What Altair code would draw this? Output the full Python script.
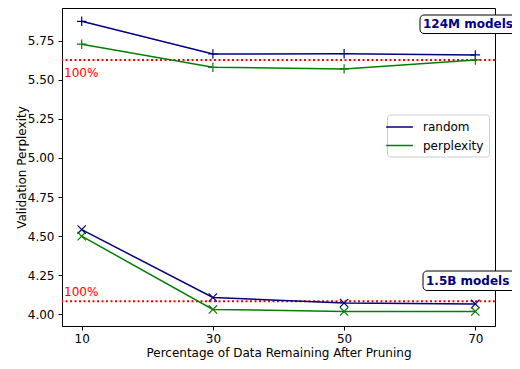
import altair as alt
import pandas as pd

# ---- data ----
x_pct = [10, 30, 50, 70]
m124_random = [5.873, 5.664, 5.666, 5.658]
m124_perplexity = [5.727, 5.579, 5.569, 5.626]
b15_random = [4.542, 4.108, 4.073, 4.067]
b15_perplexity = [4.500, 4.032, 4.019, 4.019]
baseline_models = ["124M", "1.5B"]
baseline_values = [5.626, 4.084]
baseline_label = "100%"
annot_labels = ["124M models", "1.5B models"]
methods = ["random", "perplexity"]
colors = ["#000080", "#008000"]
x_ticks = [10, 30, 50, 70]
y_ticks = [4.00, 4.25, 4.50, 4.75, 5.00, 5.25, 5.50, 5.75]

rows = []
for model, series in [("124M", {"random": m124_random, "perplexity": m124_perplexity}),
                      ("1.5B", {"random": b15_random, "perplexity": b15_perplexity})]:
    for method, vals in series.items():
        for xv, yv in zip(x_pct, vals):
            rows.append({"model": model, "method": method, "x": xv, "y": yv})
df = pd.DataFrame(rows)
base_df = pd.DataFrame({"model": baseline_models, "y": baseline_values,
                        "label": [baseline_label] * 2})

FONT = "DejaVu Sans"
W, H = 433, 318
xscale = alt.Scale(domain=[7, 73], nice=False, zero=False)
yscale = alt.Scale(domain=[3.926, 5.958], nice=False, zero=False)
cscale = alt.Scale(domain=methods, range=colors)

X = alt.X("x:Q", scale=xscale,
          axis=alt.Axis(values=x_ticks, title="Percentage of Data Remaining After Pruning",
                        grid=False, tickSize=4, labelPadding=3, titlePadding=3))
Y = alt.Y("y:Q", scale=yscale,
          axis=alt.Axis(values=y_ticks, format=".2f", title="Validation Perplexity",
                        grid=False, tickSize=4, labelPadding=4,
                        titleX=-34, titleY=H / 2))

lines = alt.Chart(df).mark_line(strokeWidth=1.5).encode(
    x=X, y=Y,
    color=alt.Color("method:N", scale=cscale, sort=methods,
                    legend=alt.Legend(title=None, orient="none", legendX=325, legendY=106.5,
                                      fillColor="white", strokeColor="#cccccc",
                                      cornerRadius=3, padding=5,
                                      symbolType="M-2,0L2,0", symbolSize=178,
                                      symbolStrokeWidth=1.5, symbolFillColor="transparent",
                                      labelFontSize=12, labelOffset=16, rowPadding=4.5,
                                      labelColor="black", labelFont=FONT)),
    detail="model:N",
)

plus_path = "M-1,0L1,0M0,-1L0,1"
x_path = "M-1,-1L1,1M-1,1L1,-1"

pts124 = alt.Chart(df).transform_filter(alt.datum.model == "124M").mark_point(
    shape=plus_path, filled=False, size=90, strokeWidth=1.2, opacity=1).encode(
    x="x:Q", y="y:Q",
    stroke=alt.Stroke("method:N", scale=cscale, legend=None))
pts15 = alt.Chart(df).transform_filter(alt.datum.model == "1.5B").mark_point(
    shape=x_path, filled=False, size=70, strokeWidth=1.2, opacity=1).encode(
    x="x:Q", y="y:Q",
    stroke=alt.Stroke("method:N", scale=cscale, legend=None))

rules = alt.Chart(base_df).mark_rule(color="red", strokeWidth=2, strokeDash=[2, 2.5]).encode(
    y="y:Q")

lab124 = alt.Chart(base_df).transform_filter(alt.datum.model == "124M").mark_text(
    align="left", baseline="alphabetic", dy=17, fontSize=12, color="red", font=FONT).encode(
    x=alt.value(2), y="y:Q", text="label:N")
lab15 = alt.Chart(base_df).transform_filter(alt.datum.model == "1.5B").mark_text(
    align="left", baseline="alphabetic", dy=-5, fontSize=12, color="red", font=FONT).encode(
    x=alt.value(2), y="y:Q", text="label:N")

one = pd.DataFrame({"a": [0]})
box124 = alt.Chart(one).mark_rect(fill="white", stroke="black", strokeWidth=1,
                                  cornerRadius=4).encode(
    x=alt.value(358), x2=alt.value(470), y=alt.value(7), y2=alt.value(25.5))
txt124 = alt.Chart(one).mark_text(align="left", baseline="middle", fontSize=12,
                                  fontWeight="bold", color="#000080", font=FONT).encode(
    x=alt.value(361), y=alt.value(16), text=alt.value(annot_labels[0]))
box15 = alt.Chart(one).mark_rect(fill="white", stroke="black", strokeWidth=1,
                                 cornerRadius=4).encode(
    x=alt.value(361), x2=alt.value(470), y=alt.value(263), y2=alt.value(282.5))
txt15 = alt.Chart(one).mark_text(align="left", baseline="middle", fontSize=12,
                                 fontWeight="bold", color="#000080", font=FONT).encode(
    x=alt.value(364), y=alt.value(273), text=alt.value(annot_labels[1]))

chart = alt.layer(rules, lab124, lab15, lines, pts124, pts15,
                  box124, txt124, box15, txt15).properties(
    width=W, height=H,
    autosize=alt.AutoSizeParams(type="none"),
    padding={"left": 54, "top": 0, "right": 17, "bottom": 35},
).configure_view(stroke="black", strokeWidth=1).configure_axis(
    labelFont=FONT, titleFont=FONT, labelFontSize=12, titleFontSize=12,
    labelColor="black", titleColor="black", titleFontWeight="normal",
    domainColor="black", tickColor="black",
).configure_text(font=FONT)

chart.save("out.html", embed_options={"renderer": "svg", "actions": False})
